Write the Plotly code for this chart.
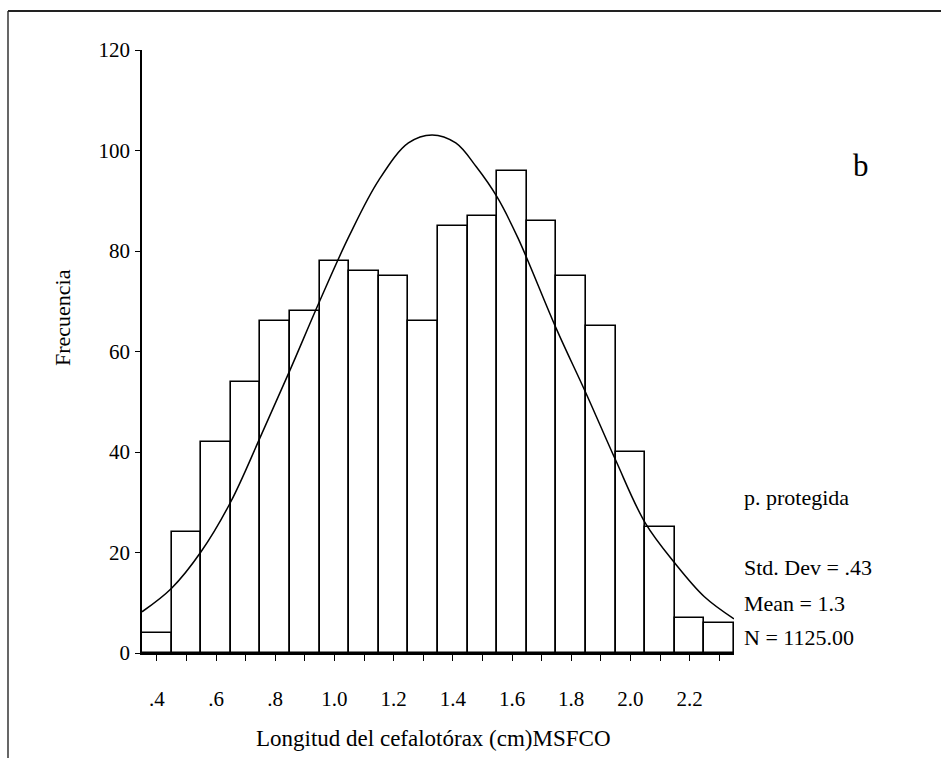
import plotly.graph_objects as go

# ---- data ----
bin_centers = [0.4, 0.5, 0.6, 0.7, 0.8, 0.9, 1.0, 1.1, 1.2, 1.3,
               1.4, 1.5, 1.6, 1.7, 1.8, 1.9, 2.0, 2.1, 2.2, 2.3]
frequencies = [4, 24, 42, 54, 66, 68, 78, 76, 75, 66,
               85, 87, 96, 86, 75, 65, 40, 25, 7, 6]
bin_width = 0.1

curve_x = [0.35, 0.45, 0.55, 0.65, 0.75, 0.85, 0.95, 1.05, 1.15, 1.25,
           1.33, 1.41, 1.48, 1.55, 1.62, 1.75, 1.85, 1.95, 2.05, 2.15, 2.25, 2.35]
curve_y = [8.2, 12.9, 20.2, 30.1, 43.0, 56.3, 70.0, 83.0, 94.1, 101.5,
           103.1, 101.5, 96.7, 90.7, 82.6, 64.5, 51.7, 38.4, 25.9, 17.9, 11.2, 6.8]

y_ticks = [0, 20, 40, 60, 80, 100, 120]
x_tick_labels = [".4", "", ".6", "", ".8", "", "1.0", "", "1.2", "",
                 "1.4", "", "1.6", "", "1.8", "", "2.0", "", "2.2", ""]

stats_lines = ["p. protegida", "Std. Dev = .43", "Mean = 1.3", "N = 1125.00"]
panel_label = "b"
x_title = "Longitud del cefalotórax (cm)MSFCO"
y_title = "Frecuencia"

FONT = "Liberation Serif"
W, H = 941, 758
L, R, T, B = 142, 207, 50, 105
PW, PH = W - L - R, H - T - B


def px(xpix):
    return (xpix - L) / PW


def py(ypix):
    return (H - B - ypix) / PH


fig = go.Figure()
fig.add_trace(go.Bar(
    x=bin_centers, y=frequencies, width=bin_width,
    marker=dict(color="white", line=dict(color="black", width=1.6)),
    showlegend=False, hoverinfo="x+y",
))
fig.add_trace(go.Scatter(
    x=curve_x, y=curve_y, mode="lines",
    line=dict(color="black", width=1.5, shape="spline", smoothing=1.0),
    showlegend=False, hoverinfo="skip",
))

fig.update_layout(
    width=W, height=H,
    margin=dict(l=L, r=R, t=T, b=B),
    paper_bgcolor="white", plot_bgcolor="white",
    font=dict(family=FONT, size=20, color="black"),
    bargap=0,
    xaxis=dict(
        range=[0.35, 2.35], tickmode="array", tickvals=bin_centers,
        ticktext=x_tick_labels, ticks="outside", ticklen=6, tickwidth=1.2,
        tickcolor="black", showline=True, linecolor="black", linewidth=1.6,
        showgrid=False, zeroline=False, ticklabelstandoff=20,
        tickfont=dict(family=FONT, size=21),
    ),
    yaxis=dict(
        range=[0, 120], tickmode="array", tickvals=y_ticks,
        ticks="outside", ticklen=5, tickwidth=1.2, tickcolor="black",
        showline=True, linecolor="black", linewidth=1.6,
        showgrid=False, zeroline=False, ticklabelstandoff=1,
        tickfont=dict(family=FONT, size=21),
    ),
)

# outer frame (cropped box: left and top edges visible)
fig.add_shape(type="line", xref="paper", yref="paper",
              x0=px(8), x1=px(8), y0=py(758), y1=py(11),
              line=dict(color="black", width=1.2))
fig.add_shape(type="line", xref="paper", yref="paper",
              x0=px(8), x1=px(941), y0=py(11), y1=py(11),
              line=dict(color="#222222", width=2))

# stats text block
stat_y = [497, 567, 603, 637]
for txt, yy in zip(stats_lines, stat_y):
    fig.add_annotation(text=txt, xref="paper", yref="paper",
                       x=px(742), y=py(yy), xanchor="left", yanchor="middle",
                       showarrow=False, font=dict(family=FONT, size=22))

fig.add_annotation(text=panel_label, xref="paper", yref="paper",
                   x=px(861), y=py(165), xanchor="center", yanchor="middle",
                   showarrow=False, font=dict(family=FONT, size=31))

fig.add_annotation(text=x_title, xref="paper", yref="paper",
                   x=px(433), y=py(738), xanchor="center", yanchor="middle",
                   showarrow=False, font=dict(family=FONT, size=23))
fig.add_annotation(text=y_title, xref="paper", yref="paper",
                   x=px(62), y=py(318), xanchor="center", yanchor="middle",
                   textangle=-90, showarrow=False,
                   font=dict(family=FONT, size=22))

fig.write_html("out.html")
